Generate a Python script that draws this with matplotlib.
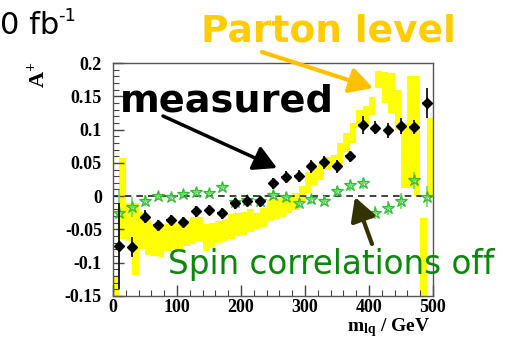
import numpy as np
import matplotlib
matplotlib.use("Agg")
import matplotlib.pyplot as plt
from matplotlib.patches import FancyArrowPatch

plt.rcParams['mathtext.fontset'] = 'custom'
plt.rcParams['mathtext.bf'] = 'Liberation Serif:bold'
plt.rcParams['mathtext.rm'] = 'Liberation Serif:bold'

# ---------------- data ----------------
mass = [10, 30, 50, 70, 90, 110, 130, 150, 170, 190, 210, 230, 250,
        270, 290, 310, 330, 350, 370, 390, 410, 430, 450, 470, 490]
measured = [-0.075, -0.076, -0.031, -0.044, -0.036, -0.039, -0.023, -0.021,
            -0.026, -0.011, -0.007, -0.008, 0.019, 0.029, 0.030, 0.045,
            0.051, 0.045, 0.060, 0.107, 0.103, 0.099, 0.106, 0.104, 0.140]
measured_err = [0.065, 0.015, 0.010, 0.008, 0.008, 0.008, 0.008, 0.008,
                0.008, 0.008, 0.008, 0.008, 0.009, 0.009, 0.009, 0.010,
                0.010, 0.010, 0.008, 0.014, 0.010, 0.011, 0.012, 0.011, 0.023]
spin_off = [-0.026, -0.017, -0.007, 0.000, -0.002, 0.003, 0.006, 0.005,
            0.013, -0.009, -0.006, -0.008, 0.002, -0.001, -0.011, -0.005,
            -0.007, 0.0075, 0.016, 0.019, -0.025, -0.018, -0.007, 0.024, -0.001]
spin_off_err = [0.035, 0.015, 0.008, 0.006, 0.006, 0.006, 0.006, 0.006,
                0.006, 0.006, 0.006, 0.006, 0.007, 0.007, 0.007, 0.007,
                0.007, 0.008, 0.009, 0.009, 0.010, 0.010, 0.012, 0.013, 0.016]

# parton level band (10 GeV bins from 0 to 500)
parton_left = [0, 10, 20, 30, 40, 50, 60, 70, 80, 90,
               100, 110, 120, 130, 140, 150, 160, 170, 180, 190,
               200, 210, 220, 230, 240, 250, 260, 270, 280, 290,
               300, 310, 320, 330, 340, 350, 360, 370, 380, 390,
               400, 410, 420, 430, 440, 450, 460, 470, 480, 490]
parton_lo = [-0.150, -0.065, -0.068, -0.119, -0.080, -0.088, -0.090, -0.092, -0.083, -0.080,
             -0.082, -0.075, -0.072, -0.068, -0.082, -0.078, -0.070, -0.067, -0.064, -0.060,
             -0.058, -0.054, -0.050, -0.047, -0.038, -0.034, -0.031, -0.025, -0.021, -0.011,
             0.004, 0.017, 0.025, 0.039, 0.042, 0.047, 0.066, 0.080, 0.104, 0.108,
             0.122, 0.162, 0.140, 0.125, 0.100, 0.012, 0.012, 0.000, -0.150, -0.003]
parton_hi = [-0.119, 0.058, -0.011, -0.011, -0.024, -0.036, -0.042, -0.047, -0.042, -0.041,
             -0.042, -0.036, -0.032, -0.031, -0.042, -0.041, -0.037, -0.035, -0.027, -0.025,
             -0.024, -0.020, -0.026, -0.018, -0.006, -0.004, -0.003, 0.000, 0.005, 0.015,
             0.036, 0.042, 0.050, 0.059, 0.062, 0.080, 0.095, 0.110, 0.129, 0.135,
             0.149, 0.188, 0.186, 0.185, 0.160, 0.110, 0.180, 0.180, -0.033, 0.117]
parton_width = 10

xticks = [0, 100, 200, 300, 400, 500]
xtick_labels = ['0', '100', '200', '300', '400', '500']
yticks = [-0.15, -0.1, -0.05, 0, 0.05, 0.1, 0.15, 0.2]
ytick_labels = ['-0.15', '-0.1', '-0.05', '0', '0.05', '0.1', '0.15', '0.2']

# ---------------- figure ----------------
W, H = 513, 342
fig = plt.figure(figsize=(W / 100, H / 100), dpi=100)
ax = fig.add_axes([113 / W, 1 - 296 / H, (433 - 113) / W, (296 - 63) / H])

def fx(px):
    return px / W

def fy(py):
    return 1 - py / H

ax.set_xlim(0, 500)
ax.set_ylim(-0.15, 0.2)

# parton-level band
lo = np.array(parton_lo)
hi = np.array(parton_hi)
ax.bar(parton_left, hi - lo, bottom=lo, width=parton_width, align='edge',
       color='#FFFF00', edgecolor='none', zorder=1)

ax.axhline(0, color='#222222', lw=1.2, ls=(0, (4, 3)), zorder=2)

# spin correlations off
ax.errorbar(mass, spin_off, yerr=spin_off_err, xerr=6, fmt='*', ms=9,
            mfc='none', mec='#33BB33', mew=0.9, ecolor='#66DD66',
            elinewidth=1.2, capsize=0, zorder=3)

# measured
ax.errorbar(mass, measured, yerr=measured_err, xerr=7, fmt='D', ms=5.5,
            color='black', ecolor='#111111', elinewidth=1.3, capsize=0, zorder=4)

# axes styling
for s in ax.spines.values():
    s.set_color('#555555')
    s.set_linewidth(1.0)
ax.set_xticks(xticks)
ax.set_xticklabels(xtick_labels)
ax.set_yticks(yticks)
ax.set_yticklabels(ytick_labels)
ax.set_xticks(np.arange(0, 501, 20), minor=True)
ax.set_yticks(np.arange(-0.15, 0.2001, 0.01), minor=True)
ax.tick_params(which='both', direction='in', top=False, right=False,
               color='#444444')
ax.tick_params(which='major', length=8, width=1)
ax.tick_params(which='minor', length=4, width=0.8)
for lab in ax.get_xticklabels() + ax.get_yticklabels():
    lab.set_fontfamily('Liberation Serif')
    lab.set_fontweight('bold')
    lab.set_fontsize(13)
ax.tick_params(axis='x', pad=2)
ax.tick_params(axis='y', pad=8)

# axis labels
fig.text(fx(430), fy(331), r'$\mathbf{m_{lq}}$ / GeV', ha='right', va='baseline',
         fontsize=14, fontfamily='Liberation Serif', fontweight='bold')
fig.text(fx(38), fy(62), r'$\mathbf{A^{+}}$', rotation=90, ha='center', va='top',
         fontsize=16, fontfamily='Liberation Serif', fontweight='bold')

# annotations
fig.text(fx(0), fy(34), '0 fb', ha='left', va='baseline',
         fontsize=22, fontfamily='DejaVu Sans', color='black')
fig.text(fx(58), fy(21), '-1', ha='left', va='baseline',
         fontsize=13, fontfamily='DejaVu Sans', color='black')
fig.text(fx(328), fy(41), 'Parton level', ha='center', va='baseline',
         fontsize=27, fontweight='bold', fontfamily='DejaVu Sans', color='#FFCC00')
fig.text(fx(120), fy(112), 'measured', ha='left', va='baseline',
         fontsize=27.5, fontweight='bold', fontfamily='DejaVu Sans', color='black')
fig.text(fx(168), fy(274), 'Spin correlations off', ha='left', va='baseline',
         fontsize=23.5, fontfamily='DejaVu Sans', color='#0A880A')

def arrow(p0, p1, color, lw, hl, hw):
    a = FancyArrowPatch((fx(p0[0]), fy(p0[1])), (fx(p1[0]), fy(p1[1])),
                        transform=fig.transFigure,
                        arrowstyle=f'-|>,head_length={hl},head_width={hw}',
                        mutation_scale=14, color=color, lw=lw,
                        shrinkA=0, shrinkB=0, zorder=10)
    fig.add_artist(a)

arrow((262, 52), (373, 88), '#FFC000', 3.0, 1.0, 0.55)
arrow((163, 116), (277, 168), 'black', 2.5, 1.0, 0.55)
arrow((372, 244), (355, 197), '#333300', 3.0, 1.0, 0.55)

fig.savefig('out.png', dpi=100)
